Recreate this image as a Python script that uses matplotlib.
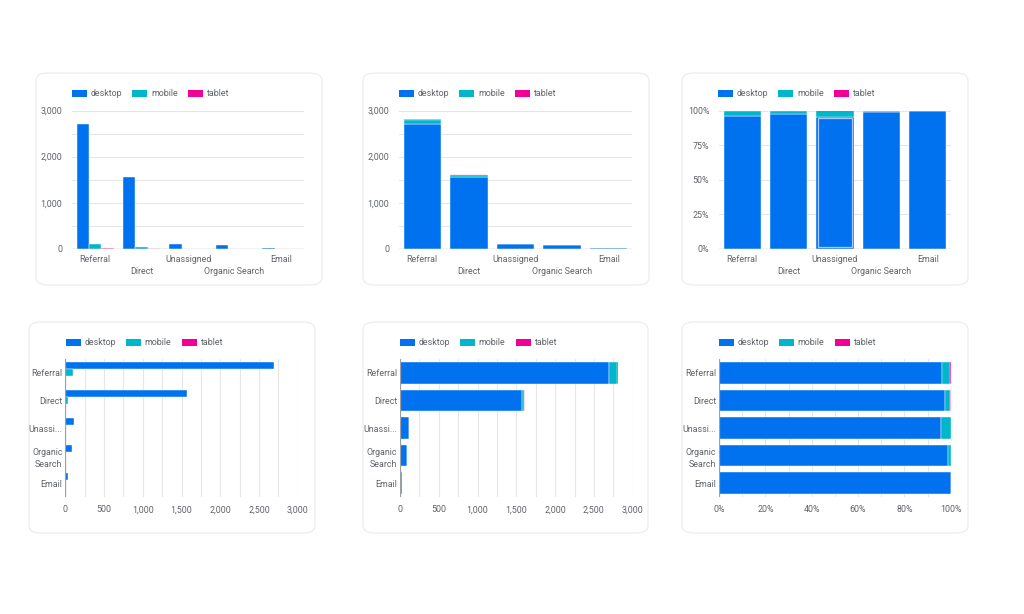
import matplotlib
matplotlib.use("Agg")
import matplotlib.pyplot as plt
import numpy as np
from matplotlib.patches import FancyBboxPatch, Rectangle
from matplotlib.ticker import FuncFormatter, MultipleLocator

plt.rcParams['font.family'] = ['Roboto', 'DejaVu Sans']

# ---------------- data ----------------
categories = ['Referral', 'Direct', 'Unassigned', 'Organic Search', 'Email']
short_labels = ['Referral', 'Direct', 'Unassi...', 'Organic\nSearch', 'Email']
desktop = np.array([2700, 1570, 110, 92, 30])
mobile = np.array([100, 35, 5, 1, 0])
tablet = np.array([8, 2, 0, 0, 0])
series_names = ['desktop', 'mobile', 'tablet']
colors = ['#0072f0', '#00b6cb', '#f10096']

W, H = 1024, 614
fig = plt.figure(figsize=(W / 100, H / 100), dpi=100)
fig.patch.set_facecolor('white')

TXT = '#5f6368'
GRID = '#e6e6e6'
BASE = '#9aa0a6'
FS = 6.4
LFS = 6.4
EDGE_W = [0.3, 0.3, 0.0]
SNAP = [None, None, False]


def fx(x):
    return x / W


def fy(y):
    return 1 - y / H


def card(x0, y0, x1, y1):
    p = FancyBboxPatch((fx(x0), fy(y1)), fx(x1 - x0), (y1 - y0) / H,
                       boxstyle="round,pad=0,rounding_size=0.012",
                       transform=fig.transFigure, facecolor='white',
                       edgecolor='#ebebeb', linewidth=0.8, zorder=0)
    fig.add_artist(p)


def axes_px(x0, y0, x1, y1):
    ax = fig.add_axes([fx(x0), fy(y1), fx(x1 - x0), (y1 - y0) / H])
    ax.set_facecolor('none')
    for s in ax.spines.values():
        s.set_visible(False)
    ax.tick_params(length=0, labelsize=FS, colors=TXT)
    return ax


def legend_px(x0, yc, offsets=(0, 60, 116)):
    for name, col, off in zip(series_names, colors, offsets):
        fig.add_artist(Rectangle((fx(x0 + off), fy(yc + 3.5)), fx(15), 7 / H,
                                 transform=fig.transFigure, facecolor=col,
                                 edgecolor='none'))
        fig.text(fx(x0 + off + 19), fy(yc), name, fontsize=LFS, color=TXT,
                 va='center', ha='left')


cards = [(36, 73, 322, 285), (363, 73, 649, 285), (682, 73, 968, 285),
         (29, 322, 315, 533), (363, 322, 648, 533), (682, 322, 968, 533)]
for c in cards:
    card(*c)

x = np.arange(len(categories))
total = desktop + mobile + tablet
series = [desktop, mobile, tablet]


def vertical_xlabels(ax):
    ax.set_xticks(x)
    ax.set_xticklabels([])
    for i, lab in enumerate(categories):
        dy = -10 if i % 2 == 0 else -22
        ax.annotate(lab, xy=(i, 0), xycoords=('data', 'axes fraction'),
                    xytext=(0, dy), textcoords='offset pixels',
                    ha='center', va='center', fontsize=FS, color=TXT)


def snap_bars(container, k):
    if SNAP[k] is not None:
        for p in container.patches:
            p.set_snap(SNAP[k])


# ---------- Card 1: grouped vertical ----------
ax1 = axes_px(72, 110.5, 304, 249)
bw = 0.8 / 3
for k, (vals, col) in enumerate(zip(series, colors)):
    bc = ax1.bar(x - 0.4 + bw * (k + 0.5), vals, width=bw, color=col,
                 edgecolor='white', linewidth=EDGE_W[k], zorder=3)
    snap_bars(bc, k)
ax1.set_xlim(-0.5, 4.5)
ax1.set_ylim(0, 3000)
ax1.set_yticks([0, 1000, 2000, 3000])
ax1.yaxis.set_minor_locator(MultipleLocator(500))
ax1.yaxis.set_major_formatter(FuncFormatter(lambda v, p: f'{int(v):,}'))
ax1.grid(axis='y', which='both', color=GRID, linewidth=0.8, zorder=0)
ax1.tick_params(axis='y', which='both', length=0, pad=7)
ax1.axhline(0, color=BASE, linewidth=0.9, zorder=4)
vertical_xlabels(ax1)
legend_px(72, 93.5)

# ---------- Card 2: stacked vertical ----------
ax2 = axes_px(399, 110.5, 632, 249)
bottom = np.zeros(len(x))
for k, (vals, col) in enumerate(zip(series, colors)):
    bc = ax2.bar(x, vals, bottom=bottom, width=0.8, color=col,
                 edgecolor='white', linewidth=EDGE_W[k], zorder=3)
    snap_bars(bc, k)
    bottom = bottom + vals
ax2.set_xlim(-0.5, 4.5)
ax2.set_ylim(0, 3000)
ax2.set_yticks([0, 1000, 2000, 3000])
ax2.yaxis.set_minor_locator(MultipleLocator(500))
ax2.yaxis.set_major_formatter(FuncFormatter(lambda v, p: f'{int(v):,}'))
ax2.grid(axis='y', which='both', color=GRID, linewidth=0.8, zorder=0)
ax2.tick_params(axis='y', which='both', length=0, pad=7)
ax2.axhline(0, color=BASE, linewidth=0.9, zorder=4)
vertical_xlabels(ax2)
legend_px(399, 93.5)

# ---------- Card 3: 100% stacked vertical ----------
ax3 = axes_px(719, 110.5, 951, 249)
bottom = np.zeros(len(x))
for k, (vals, col) in enumerate(zip(series, colors)):
    pct = vals / total * 100
    bc = ax3.bar(x, pct, bottom=bottom, width=0.8, color=col,
                 edgecolor='white', linewidth=EDGE_W[k], zorder=3)
    snap_bars(bc, k)
    bottom = bottom + pct
# hover highlight on Unassigned
ui = categories.index('Unassigned')
upct = desktop[ui] / total[ui] * 100
ax3.bar(ui, upct - 2.6, bottom=1.3, width=0.74, fill=False,
        edgecolor='#a9c8fb', linewidth=0.9, zorder=5)
ax3.set_xlim(-0.5, 4.5)
ax3.set_ylim(0, 100)
ax3.set_yticks([0, 25, 50, 75, 100])
ax3.yaxis.set_major_formatter(FuncFormatter(lambda v, p: f'{int(v)}%'))
ax3.grid(axis='y', color=GRID, linewidth=0.8, zorder=0)
ax3.tick_params(axis='y', length=0, pad=7)
ax3.axhline(0, color=BASE, linewidth=0.9, zorder=4)
vertical_xlabels(ax3)
legend_px(718, 93.5)

# ---------- Card 4: grouped horizontal ----------
ax4 = axes_px(65.3, 359, 297.7, 497)
bh = 0.76 / 3
for k, (vals, col) in enumerate(zip(series, colors)):
    bc = ax4.barh(x - 0.38 + bh * (k + 0.5), vals, height=bh, color=col,
                  edgecolor='white', linewidth=EDGE_W[k], zorder=3)
    snap_bars(bc, k)
ax4.set_ylim(4.5, -0.5)
ax4.set_xlim(0, 3000)
ax4.set_xticks(np.arange(0, 3001, 500))
ax4.xaxis.set_minor_locator(MultipleLocator(250))
ax4.xaxis.set_major_formatter(FuncFormatter(lambda v, p: f'{int(v):,}'))
ax4.grid(axis='x', which='both', color=GRID, linewidth=0.8, zorder=0)
ax4.set_yticks(x)
ax4.set_yticklabels(short_labels, linespacing=1.5)
ax4.tick_params(axis='y', pad=2)
ax4.tick_params(axis='x', which='both', length=0, pad=6)
ax4.axvline(0, color=BASE, linewidth=0.9, zorder=4)
legend_px(65.5, 342.5)

# ---------- Card 5: stacked horizontal ----------
ax5 = axes_px(400, 359, 632.7, 497)
left = np.zeros(len(x))
for k, (vals, col) in enumerate(zip(series, colors)):
    bc = ax5.barh(x, vals, left=left, height=0.78, color=col,
                  edgecolor='white', linewidth=EDGE_W[k], zorder=3)
    snap_bars(bc, k)
    left = left + vals
ax5.set_ylim(4.5, -0.5)
ax5.set_xlim(0, 3000)
ax5.set_xticks(np.arange(0, 3001, 500))
ax5.xaxis.set_minor_locator(MultipleLocator(250))
ax5.xaxis.set_major_formatter(FuncFormatter(lambda v, p: f'{int(v):,}'))
ax5.grid(axis='x', which='both', color=GRID, linewidth=0.8, zorder=0)
ax5.set_yticks(x)
ax5.set_yticklabels(short_labels, linespacing=1.5)
ax5.tick_params(axis='y', pad=2)
ax5.tick_params(axis='x', which='both', length=0, pad=6)
ax5.axvline(0, color=BASE, linewidth=0.9, zorder=4)
legend_px(399.5, 342.5)

# ---------- Card 6: 100% stacked horizontal ----------
ax6 = axes_px(719, 359, 950.7, 497)
left = np.zeros(len(x))
for k, (vals, col) in enumerate(zip(series, colors)):
    pct = vals / total * 100
    bc = ax6.barh(x, pct, left=left, height=0.78, color=col,
                  edgecolor='white', linewidth=EDGE_W[k], zorder=3)
    snap_bars(bc, k)
    left = left + pct
ax6.set_ylim(4.5, -0.5)
ax6.set_xlim(0, 100)
ax6.set_xticks(np.arange(0, 101, 20))
ax6.xaxis.set_minor_locator(MultipleLocator(10))
ax6.xaxis.set_major_formatter(FuncFormatter(lambda v, p: f'{int(v)}%'))
ax6.grid(axis='x', which='both', color=GRID, linewidth=0.8, zorder=0)
ax6.set_yticks(x)
ax6.set_yticklabels(short_labels, linespacing=1.5)
ax6.tick_params(axis='y', pad=2)
ax6.tick_params(axis='x', which='both', length=0, pad=6)
ax6.axvline(0, color=BASE, linewidth=0.9, zorder=4)
legend_px(718.5, 342.5)

fig.savefig('out.png', dpi=100, facecolor='white')
